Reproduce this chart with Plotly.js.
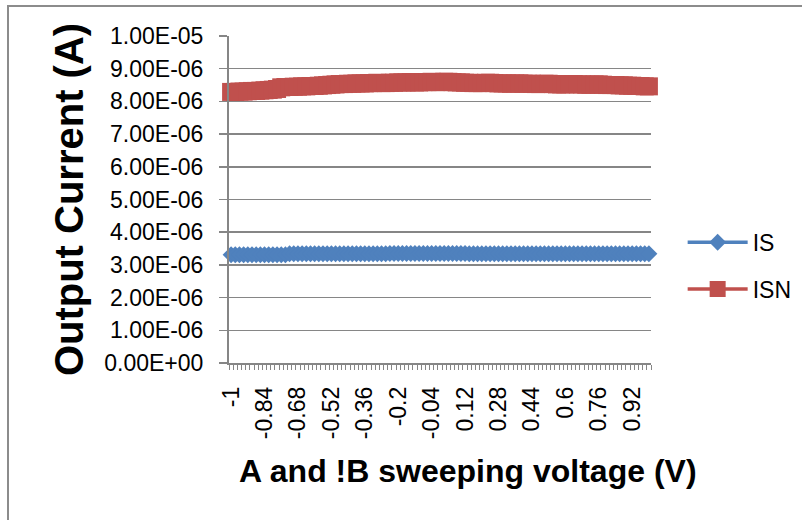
<!DOCTYPE html>
<html>
<head>
<meta charset="utf-8">
<script src="https://cdn.plot.ly/plotly-3.0.1.min.js"></script>
<style>
html,body{margin:0;padding:0;background:#fff;}
#chart{width:802px;height:520px;}
</style>
</head>
<body>
<div id="chart"></div>
<script>
// Sweep voltage categories (V)
const voltage = [
 -1.00,-0.98,-0.96,-0.94,-0.92,-0.90,-0.88,-0.86,-0.84,-0.82,
 -0.80,-0.78,-0.76,-0.74,-0.72,-0.70,-0.68,-0.66,-0.64,-0.62,
 -0.60,-0.58,-0.56,-0.54,-0.52,-0.50,-0.48,-0.46,-0.44,-0.42,
 -0.40,-0.38,-0.36,-0.34,-0.32,-0.30,-0.28,-0.26,-0.24,-0.22,
 -0.20,-0.18,-0.16,-0.14,-0.12,-0.10,-0.08,-0.06,-0.04,-0.02,
  0.00, 0.02, 0.04, 0.06, 0.08, 0.10, 0.12, 0.14, 0.16, 0.18,
  0.20, 0.22, 0.24, 0.26, 0.28, 0.30, 0.32, 0.34, 0.36, 0.38,
  0.40, 0.42, 0.44, 0.46, 0.48, 0.50, 0.52, 0.54, 0.56, 0.58,
  0.60, 0.62, 0.64, 0.66, 0.68, 0.70, 0.72, 0.74, 0.76, 0.78,
  0.80, 0.82, 0.84, 0.86, 0.88, 0.90, 0.92, 0.94, 0.96, 0.98,
  1.00
];

// IS output current (units of 1e-6 A)
const IS_uA = [
 3.31,3.31,3.31,3.31,3.31,3.31,3.31,3.31,3.31,3.31,
 3.31,3.31,3.31,3.31,3.34,3.34,3.34,3.34,3.34,3.34,
 3.34,3.34,3.34,3.34,3.34,3.34,3.34,3.34,3.34,3.34,
 3.34,3.34,3.34,3.34,3.34,3.34,3.34,3.34,3.35,3.35,
 3.35,3.35,3.35,3.35,3.35,3.35,3.35,3.35,3.35,3.35,
 3.35,3.35,3.35,3.35,3.35,3.35,3.35,3.34,3.34,3.34,
 3.34,3.34,3.34,3.34,3.34,3.34,3.34,3.34,3.34,3.34,
 3.34,3.34,3.34,3.34,3.34,3.34,3.34,3.34,3.34,3.34,
 3.34,3.34,3.34,3.34,3.34,3.34,3.34,3.34,3.34,3.34,
 3.34,3.34,3.34,3.34,3.34,3.34,3.34,3.34,3.34,3.34,
 3.34
];

// ISN output current (units of 1e-6 A)
const ISN_uA = [
 8.29,8.29,8.30,8.30,
 8.31,8.32,8.32,8.33,8.34,
 8.35,8.36,8.38,
 8.43,8.44,8.44,8.45,8.45,
 8.46,8.46,8.47,8.47,8.48,8.49,8.50,8.51,
 8.52,8.53,8.53,8.54,8.54,8.55,8.55,
 8.55,8.56,8.56,8.57,8.56,8.56,8.57,8.57,8.58,
 8.58,8.58,8.59,8.58,8.58,8.59,8.59,8.60,8.59,8.59,
 8.60,8.60,8.59,8.58,8.58,8.57,8.57,8.56,8.56,8.56,
 8.57,8.57,8.56,8.55,8.55,8.55,8.54,8.55,8.55,8.54,
 8.54,8.54,8.53,8.53,8.54,8.54,8.53,8.52,8.52,8.52,
 8.53,8.53,8.52,8.52,8.51,8.51,8.52,8.52,8.51,8.50,
 8.50,8.50,8.49,8.49,8.48,8.48,8.47,8.47,8.46,8.46
];

// Axis tick labels
const xTickVals = [-1,-0.84,-0.68,-0.52,-0.36,-0.2,-0.04,0.12,0.28,0.44,0.6,0.76,0.92];
const xTickText = ["-1","-0.84","-0.68","-0.52","-0.36","-0.2","-0.04","0.12","0.28","0.44","0.6","0.76","0.92"];
const yTickVals = [0,1e-6,2e-6,3e-6,4e-6,5e-6,6e-6,7e-6,8e-6,9e-6,1e-5];
const yTickText = ["0.00E+00","1.00E-06","2.00E-06","3.00E-06","4.00E-06","5.00E-06","6.00E-06","7.00E-06","8.00E-06","9.00E-06","1.00E-05"];

const IS = IS_uA.map(v => v * 1e-6);
const ISN = ISN_uA.map(v => v * 1e-6);

const FONT = "Liberation Sans, Arial, sans-serif";
const GRID = "#868686";

const traces = [
  {
    x: voltage, y: IS, name: "IS", type: "scatter", mode: "lines+markers",
    legendgroup: "a", cliponaxis: false,
    line: {color: "#4F81BD", width: 3.5},
    marker: {symbol: "diamond", size: 13, color: "#4F81BD"}
  },
  {
    x: voltage, y: ISN, name: "ISN", type: "scatter", mode: "lines+markers",
    legendgroup: "b", cliponaxis: false,
    line: {color: "#C0504D", width: 3.5},
    marker: {symbol: "square", size: 18, color: "#C0504D"}
  }
];

const layout = {
  width: 802, height: 520,
  margin: {l: 229, r: 151, t: 36, b: 157, autoexpand: false},
  paper_bgcolor: "#fff", plot_bgcolor: "#fff",
  font: {family: FONT, color: "#000", size: 23},
  showlegend: true,
  legend: {
    x: 1.075, xanchor: "left", y: 0.435, yanchor: "top",
    itemwidth: 60,
    traceorder: "grouped", tracegroupgap: 14,
    font: {family: FONT, size: 23, color: "#000"},
    bgcolor: "rgba(0,0,0,0)"
  },
  xaxis: {
    range: [-1.01, 1.01], fixedrange: true,
    showgrid: false, zeroline: false,
    showline: true, linecolor: GRID, linewidth: 1.5,
    tickmode: "array", tickvals: xTickVals, ticktext: xTickText,
    ticks: "outside", ticklen: 13, tickcolor: "rgba(0,0,0,0)",
    tickangle: -90,
    tickfont: {family: FONT, size: 23, color: "#000"},
    minor: {tickmode: "linear", tick0: -1.01, dtick: 0.02, ticks: "outside", ticklen: 5, tickcolor: GRID, tickwidth: 1, showgrid: false}
  },
  yaxis: {
    range: [0, 1e-5], fixedrange: true,
    showgrid: true, gridcolor: GRID, gridwidth: 1.5,
    zeroline: false,
    showline: true, linecolor: GRID, linewidth: 2,
    tickmode: "array", tickvals: yTickVals, ticktext: yTickText,
    ticks: "outside", ticklen: 8, tickcolor: GRID, tickwidth: 1.5,
    ticklabelstandoff: 11,
    tickfont: {family: FONT, size: 23, color: "#000"},
    title: {text: "Output Current (A)", font: {family: FONT, size: 40, color: "#000", weight: "bold"}, standoff: 8}
  },
  annotations: [
    {
      text: "A and !B sweeping voltage (V)", xref: "paper", yref: "paper",
      x: 0.566, y: -0.33, xanchor: "center", yanchor: "middle", showarrow: false,
      font: {family: FONT, size: 32, color: "#000", weight: "bold"}
    }
  ],
  shapes: [
    {type: "rect", xref: "paper", yref: "paper", x0: -0.5237, x1: 2, y0: -1, y1: 1.0917,
     line: {color: "#8c8c8c", width: 2}, fillcolor: "rgba(0,0,0,0)", layer: "below"}
  ]
};

Plotly.newPlot("chart", traces, layout, {displayModeBar: false, staticPlot: true});
</script>
</body>
</html>
